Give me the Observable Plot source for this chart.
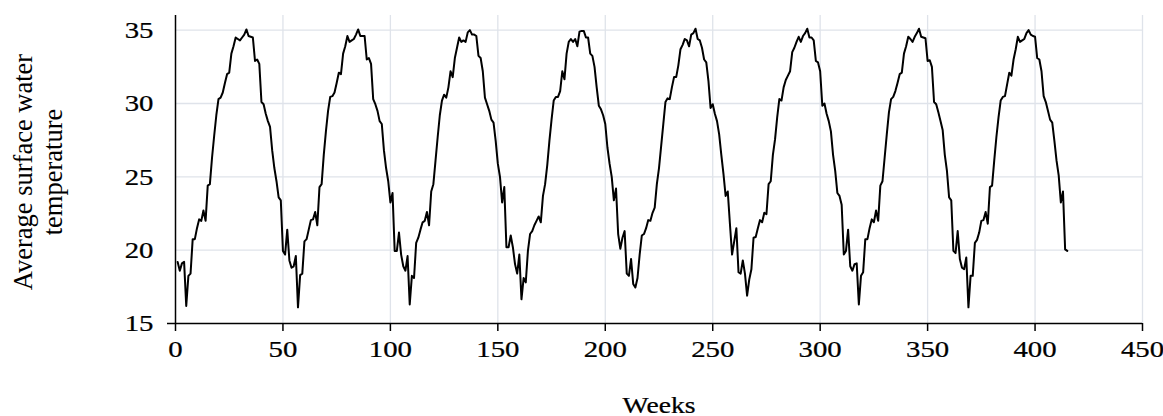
<!DOCTYPE html>
<html>
<head>
<meta charset="utf-8">
<script src="https://cdn.jsdelivr.net/npm/d3@7"></script>
<script src="https://cdn.jsdelivr.net/npm/@observablehq/plot@0.6"></script>
<style>
  html, body { margin: 0; padding: 0; background: #fff; }
  #chart { width: 1163px; height: 416px; }
</style>
</head>
<body>
<div id="chart"></div>
<script>
// Weekly average surface water temperature (weeks 1..415)
const year1 = [19.2,18.6,19.1,19.2,16.2,18.25,18.4,20.75,20.75,21.5,22.1,22.0,22.7,22.0,24.4,24.5,26.3,27.8,29.2,30.3,30.4,30.75,31.4,32.0,32.1,33.4,33.9,34.5,34.4,34.3,34.5,34.7,35.05,34.6,34.55,34.5,32.9,33.0,32.7,30.1,29.95,29.3,28.8,28.4,26.8,25.6,24.7,23.6,23.4,19.95,19.7,21.4];
const year2 = [19.3,18.8,18.9,19.6,16.1,18.3,18.4,20.6,20.75,21.4,22.05,22.1,22.6,21.7,24.3,24.5,26.5,28.1,29.5,30.45,30.5,30.75,31.4,32.1,32.0,33.4,33.9,34.6,34.2,34.3,34.4,34.7,35.05,34.6,34.6,34.6,33.0,33.1,32.7,30.3,29.95,29.5,28.8,28.6,26.8,25.6,24.7,23.25,23.9,19.95,19.95,21.2];
const year3 = [19.7,18.9,18.6,19.6,16.3,18.25,18.1,20.5,20.85,21.4,21.9,22.0,22.6,21.7,24.0,24.5,26.1,27.7,29.2,30.2,30.6,30.4,31.1,32.2,31.8,33.1,33.8,34.5,34.2,34.3,34.2,34.85,35.0,34.7,34.7,34.6,33.25,33.1,32.2,30.4,29.95,29.5,28.9,28.7,27.45,25.9,25.0,23.25,24.3,20.2,20.2,21.0];
const year4 = [20.2,19.05,18.4,19.7,16.65,18.1,17.8,19.95,21.1,21.3,21.7,22.0,22.3,21.9,23.7,24.5,25.8,27.45,28.9,30.2,30.45,30.45,30.85,32.2,31.65,33.4,34.2,34.4,34.2,34.4,33.9,34.9,34.95,34.95,34.5,34.5,33.4,33.25,32.5,31.1,29.85,29.6,29.2,28.6,27.0,25.9,25.0,23.4,24.2,21.1,20.1,20.85];
const year5 = [21.3,18.4,18.25,19.4,17.7,17.45,18.1,19.7,21.0,21.1,21.5,22.05,22.0,22.55,22.9,24.5,25.6,27.1,28.6,30.1,30.35,30.3,31.1,31.8,31.8,32.6,33.7,34.0,34.4,34.3,33.9,34.7,34.8,35.1,34.4,34.3,33.8,33.0,32.8,31.55,29.7,29.95,29.3,28.8,27.9,26.5,25.2,23.7,24.0,21.8,19.7,20.6];
const year6 = [21.5,18.5,18.4,19.3,18.4,16.9,18.0,18.7,20.85,20.9,21.5,22.05,21.9,22.55,22.45,24.5,24.7,26.5,27.55,29.05,30.3,30.2,31.1,31.6,31.9,32.2,33.5,33.8,34.2,34.55,34.2,34.6,34.8,35.1,34.5,34.5,34.3,32.9,32.8,32.2,29.85,30.0,29.3,28.8,28.1,26.5,25.4,23.9,23.7,23.1,19.7,19.95];
const year7 = [21.4,18.9,18.6,19.05,19.1,16.3,18.25,18.5,20.75,20.75,21.5,22.1,21.9,22.7,22.0,24.4,24.7,26.3,27.9,29.4,30.3,30.45,30.85,31.4,32.0,32.1,33.4,33.9,34.55,34.4,34.2,34.55,34.8,35.1,34.55,34.5,34.45,32.9,32.95,32.5,30.1,29.95,29.4,28.8,28.2,26.5,25.4,23.6,23.4,19.95,19.8,21.3];
const year8 = [19.4,18.8,18.7,19.5,16.1,18.25,18.25,20.5,20.7,21.2,22.0,22.05,22.6,21.8,24.3,24.4,26.1,27.7,29.05,30.2,30.45,30.5,31.3,32.1,31.9,33.0,33.7,34.55,34.2,34.3,34.4,34.8,35.0,34.7,34.6,34.55,33.1,33.0,32.2,30.5,30.1,29.5,28.9,28.7,27.45,26.1,25.1,23.25,24.0,20.05,19.95];

const xTicks = [0, 50, 100, 150, 200, 250, 300, 350, 400, 450];
const yTicks = [15, 20, 25, 30, 35];
const xLabel = "Weeks";
const yLabel = "Average surface water\ntemperature";

const temps = [].concat(year1, year2, year3, year4, year5, year6, year7, year8);
const data = temps.map((t, i) => ({week: i + 1, temp: t}));

const gridColor = "#dfe3ea";
const font = "'Liberation Serif', 'Times New Roman', serif";

const chart = Plot.plot({
  width: 1163,
  height: 416,
  marginLeft: 175,
  marginRight: 21,
  marginTop: 15,
  marginBottom: 93,
  style: {fontFamily: font, fontSize: "24px", color: "#000", background: "#fff", overflow: "visible"},
  x: {domain: [0, 450], ticks: xTicks},
  y: {domain: [15, 36], ticks: yTicks},
  marks: [
    Plot.gridX(xTicks.filter(d => d > 0), {stroke: gridColor, strokeOpacity: 1, strokeWidth: 1.3}),
    Plot.gridY(yTicks.filter(d => d > 15), {stroke: gridColor, strokeOpacity: 1, strokeWidth: 1.3}),
    Plot.line(data, {x: "week", y: "temp", stroke: "#000", strokeWidth: 2, strokeLinejoin: "round"}),
    Plot.ruleX([0], {stroke: "#000", strokeWidth: 1.5}),
    Plot.ruleY([15], {stroke: "#000", strokeWidth: 1.5}),
    Plot.axisX({ticks: xTicks, tickSize: 8, tickPadding: 8, label: null, strokeWidth: 1.5, fontSize: 24}),
    Plot.axisY({ticks: yTicks, tickSize: 0, tickPadding: 22, label: null, fontSize: 24}),
    Plot.axisY({ticks: [15], tickSize: 8, tickFormat: () => "", label: null, strokeWidth: 1.5}),
    Plot.text([yLabel], {frameAnchor: "left", textAnchor: "middle", lineAnchor: "middle", rotate: -90, dx: -138.4, dy: 2.5, lineHeight: 1.14, fontSize: 26.5, fill: "#000"}),
    Plot.text([xLabel], {frameAnchor: "bottom", textAnchor: "middle", dy: 82.5, lineAnchor: "middle", fontSize: 23, fill: "#000"})
  ]
});

document.getElementById("chart").appendChild(chart);

// The reference's horizontal texts are drawn wider than plain Times: stretch them sideways
// and give them a hairline outline so they keep the same darkness.
chart.querySelectorAll("text").forEach(t => {
  const tr = t.getAttribute("transform") || "";
  if (!/rotate/.test(tr)) {
    t.setAttribute("transform", tr + " scale(1.2,1)");
    t.setAttribute("stroke", "#000");
    t.setAttribute("stroke-width", "0.25");
  }
});
</script>
</body>
</html>
